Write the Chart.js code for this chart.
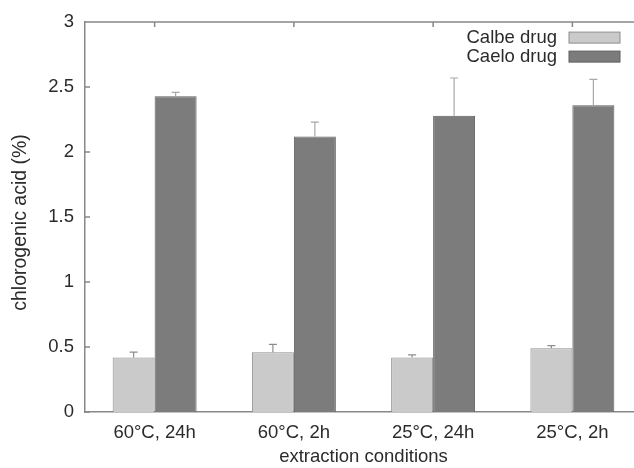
<!DOCTYPE html>
<html>
<head>
<title>chlorogenic acid</title>
<script src="https://cdn.jsdelivr.net/npm/chart.js@4/dist/chart.umd.min.js"></script>
<style>
  html, body { margin: 0; padding: 0; background: #fff; overflow: hidden; }
  #holder { width: 650px; height: 468px; }
</style>
</head>
<body>
<div id="holder"><canvas id="chart" width="650" height="468"></canvas></div>
<script>
// data
var conditions = ['60°C, 24h', '60°C, 2h', '25°C, 24h', '25°C, 2h'];
var calbe = [0.42, 0.46, 0.42, 0.49];
var calbeErr = [0.04, 0.06, 0.02, 0.02];
var caelo = [2.43, 2.12, 2.28, 2.36];
var caeloErr = [0.03, 0.11, 0.29, 0.20];
var seriesNames = ['Calbe drug', 'Caelo drug'];

var textColor = '#2b2b2b';
var axisColor = '#888';
var font = { family: '"Liberation Sans", Arial, sans-serif', size: 18.5 };

// upward error bars with small caps
var errorBars = {
  id: 'errorBars',
  afterDatasetsDraw: function(chart) {
    var ctx = chart.ctx;
    var y = chart.scales.y;
    chart.data.datasets.forEach(function(ds, i) {
      var meta = chart.getDatasetMeta(i);
      meta.data.forEach(function(bar, j) {
        var top = y.getPixelForValue(ds.data[j]);
        var end = y.getPixelForValue(ds.data[j] + ds.errors[j]);
        ctx.save();
        ctx.strokeStyle = ds.errorColor;
        ctx.lineWidth = 1.2;
        ctx.beginPath();
        ctx.moveTo(bar.x, top);
        ctx.lineTo(bar.x, end);
        ctx.moveTo(bar.x - 4, end);
        ctx.lineTo(bar.x + 4, end);
        ctx.stroke();
        ctx.restore();
      });
    });
  }
};

// gnuplot-like frame: top line, inward ticks (right side is cut off in the original)
var frame = {
  id: 'frame',
  afterDraw: function(chart) {
    var ctx = chart.ctx;
    var a = chart.chartArea;
    var x = chart.scales.x, y = chart.scales.y;
    ctx.save();
    ctx.strokeStyle = axisColor;
    ctx.lineWidth = 1.5;
    ctx.beginPath();
    ctx.moveTo(a.left, a.top);
    ctx.lineTo(a.right, a.top);
    y.ticks.forEach(function(t, i) {
      var py = y.getPixelForTick(i);
      ctx.moveTo(a.left, py);
      ctx.lineTo(a.left + 5, py);
    });
    x.ticks.forEach(function(t, i) {
      var px = x.getPixelForTick(i);
      ctx.moveTo(px, a.top);
      ctx.lineTo(px, a.top + 5);
    });
    ctx.stroke();
    ctx.restore();
  }
};

// legend in the top right corner: text then sample box
var boxLegend = {
  id: 'boxLegend',
  afterDraw: function(chart) {
    var ctx = chart.ctx;
    var a = chart.chartArea;
    ctx.save();
    ctx.font = font.size + 'px ' + font.family;
    ctx.textAlign = 'right';
    ctx.textBaseline = 'middle';
    chart.data.datasets.forEach(function(ds, i) {
      var cy = a.top + 15 + i * 19;
      ctx.fillStyle = textColor;
      ctx.fillText(ds.label, a.left + 472, cy + 1);
      ctx.fillStyle = ds.backgroundColor;
      ctx.strokeStyle = ds.borderColor;
      ctx.lineWidth = 1;
      ctx.fillRect(a.left + 484, cy - 5, 51, 11);
      ctx.strokeRect(a.left + 484, cy - 5, 51, 11);
    });
    ctx.restore();
  }
};

var chart = new Chart(document.getElementById('chart').getContext('2d'), {
  type: 'bar',
  data: {
    labels: conditions,
    datasets: [{
      label: seriesNames[0],
      data: calbe,
      errors: calbeErr,
      errorColor: '#8c8c8c',
      backgroundColor: '#cacaca',
      borderColor: '#8e8e8e',
      borderWidth: 1,
      barPercentage: 1,
      categoryPercentage: 0.603
    }, {
      label: seriesNames[1],
      data: caelo,
      errors: caeloErr,
      errorColor: '#a8a8a8',
      backgroundColor: '#7c7c7c',
      borderColor: '#5e5e5e',
      borderWidth: 1,
      barPercentage: 1,
      categoryPercentage: 0.603
    }]
  },
  options: {
    responsive: false,
    animation: false,
    layout: { padding: { left: 0, top: 21, right: 8, bottom: 0 } },
    plugins: {
      legend: { display: false },
      tooltip: { enabled: false }
    },
    scales: {
      x: {
        grid: { display: false, drawTicks: false },
        border: { display: true, color: axisColor, width: 1.5 },
        ticks: { color: textColor, font: font, padding: 10, maxRotation: 0 },
        title: { display: true, text: 'extraction conditions', color: textColor, font: font, padding: { top: 7, bottom: 0 } },
        afterFit: function(s) { s.height = 56; }
      },
      y: {
        min: 0,
        max: 3,
        grid: { display: false, drawTicks: false },
        border: { display: true, color: axisColor, width: 1.5 },
        ticks: {
          stepSize: 0.5, color: textColor, font: font, padding: 11,
          callback: function(v) { return String(v); }
        },
        title: { display: true, text: 'chlorogenic acid (%)\u00a0\u00a0', color: textColor, font: { family: font.family, size: 19.5 }, padding: { top: 9, bottom: 0 } },
        afterFit: function(s) { s.width = 85; }
      }
    }
  },
  plugins: [errorBars, frame, boxLegend]
});
</script>
</body>
</html>
